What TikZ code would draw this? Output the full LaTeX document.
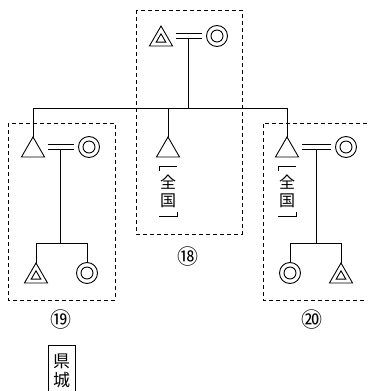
\documentclass[tikz,border=0pt]{standalone}
\usepackage{fontspec}
\newfontfamily\cjk{Noto Sans CJK JP}
\usetikzlibrary{shapes.geometric,calc}

\begin{document}
\begin{tikzpicture}[x=1pt,y=-1pt,
  line width=0.9pt,
  tri/.style={draw, regular polygon, regular polygon sides=3, minimum size=26.6pt, inner sep=0pt, outer sep=0pt},
  tri in/.style={draw, regular polygon, regular polygon sides=3, minimum size=11pt, inner sep=0pt, outer sep=0pt},
  ring/.style={draw, circle, minimum size=21pt, inner sep=0pt, outer sep=0pt},
  ring in/.style={draw, circle, minimum size=12pt, inner sep=0pt, outer sep=0pt},
  marry/.style={double, double distance=3.8pt, line width=0.9pt},
  group/.style={dash pattern=on 4pt off 3pt, line width=0.9pt},
  lbl/.style={font=\cjk\fontsize{16}{18.5}\selectfont, inner sep=0pt, align=center},
  num/.style={font=\cjk\fontsize{21}{21}\selectfont, inner sep=0pt}
]
\clip (0,0) rectangle (367,391);

% dashed groups
\draw[group] (136,10) rectangle (242,234);
\draw[group] (8,123) rectangle (115,300);
\draw[group] (367,123) -- (263,123) -- (263,300) -- (367,300);

% top couple
\node[tri] (T0) at (161,39.3) {};
\node[tri in] (T0in) at (T0.center) {};
\node[ring] (C0) at (217,36) {};
\node[ring in] (C0in) at (C0.center) {};
\coordinate (e0a) at ([xshift=3pt]T0.corner 3 |- C0.center);
\coordinate (e0b) at ([xshift=-5pt]C0.west);
\draw[marry] (e0a) -- (e0b);
\coordinate (s0) at ($(e0a)!0.5!(e0b)$);
\coordinate (j0) at (s0 |- 0,108);

% children of the top couple
\node[tri] (L1) at (33,150.3) {};
\node[tri] (M) at (168,150.3) {};
\node[tri] (R1) at (287,150.3) {};
\draw ([yshift=-2.3pt]s0) -- (j0);
\draw (L1.corner 1) -- (L1.corner 1 |- j0) -- (R1.corner 1 |- j0) -- (R1.corner 1);
\draw (M.corner 1) -- (M.corner 1 |- j0);

% left couple
\node[ring] (CL1) at (89,147) {};
\node[ring in] (CL1in) at (CL1.center) {};
\coordinate (e1a) at ([xshift=3pt]L1.corner 3 |- CL1.center);
\coordinate (e1b) at ([xshift=-5pt]CL1.west);
\draw[marry] (e1a) -- (e1b);
\coordinate (s1) at ($(e1a)!0.5!(e1b)$);
\coordinate (j1) at (s1 |- 0,243);
\node[tri] (L2) at (36,276.3) {};
\node[tri in] (L2in) at (L2.center) {};
\node[ring] (CL2) at (87,273) {};
\node[ring in] (CL2in) at (CL2.center) {};
\draw ([yshift=-2.3pt]s1) -- (j1);
\draw (L2.corner 1) -- (L2.corner 1 |- j1) -- (CL2.north |- j1) -- (CL2.north);

% right couple
\node[ring] (CR1) at (346,147) {};
\node[ring in] (CR1in) at (CR1.center) {};
\coordinate (e2a) at ([xshift=3pt]R1.corner 3 |- CR1.center);
\coordinate (e2b) at ([xshift=-5pt]CR1.west);
\draw[marry] (e2a) -- (e2b);
\coordinate (s2) at ($(e2a)!0.5!(e2b)$);
\coordinate (j2) at (s2 |- 0,243);
\node[ring] (CR2) at (290,273) {};
\node[ring in] (CR2in) at (CR2.center) {};
\node[tri] (R2) at (341,276.3) {};
\node[tri in] (R2in) at (R2.center) {};
\draw ([yshift=-2.3pt]s2) -- (j2);
\draw (CR2.north) -- (CR2.north |- j2) -- (R2.corner 1 |- j2) -- (R2.corner 1);

% vertical labels with corner brackets
\foreach \n/\x in {zk1/168, zk2/287} {
  \node[lbl] (\n) at (\x,191.5) {全\\国};
  \draw[line width=0.8pt] ($(\n.center)+(-9,-21)$) -- ($(\n.center)+(-9,-25.5)$) -- ($(\n.center)+(9,-25.5)$);
  \draw[line width=0.8pt] ($(\n.center)+(-9,25)$) -- ($(\n.center)+(9,25)$) -- ($(\n.center)+(9,20.5)$);
}

% numbers
\node[num] (n18) at (188,257) {⑱};
\node[num] (n19) at (61,320) {⑲};
\node[num] (n20) at (312,320) {⑳};

% boxed label
\node[lbl, font=\cjk\fontsize{17}{19}\selectfont] (kj) at (61.5,371) {県\\城};
\draw[line width=1pt] (48.5,395) -- (48.5,345) -- (75,345) -- (75,395);
\end{tikzpicture}
\end{document}
